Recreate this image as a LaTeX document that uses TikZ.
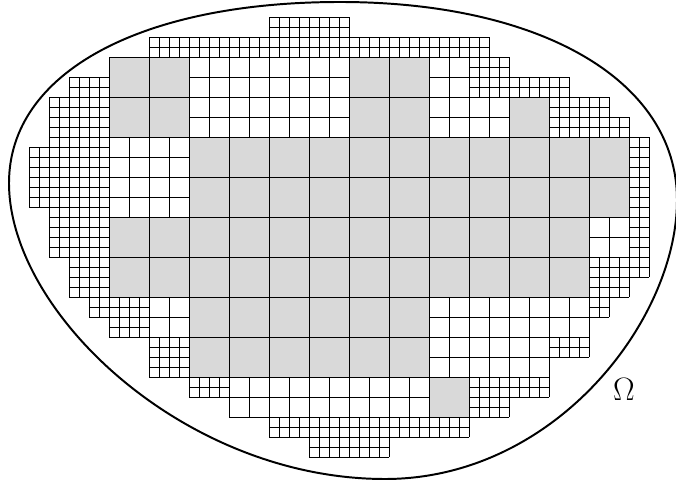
\RequirePackage{fix-cm}
\documentclass[tikz,border=0pt]{standalone}
\begin{document}
\begin{tikzpicture}[
    scale=.25, line width=.6pt,
    gris/.style={fill=gray!30},
    borde/.style={line width=1.4pt}]
    \useasboundingbox (-2.9,1.7) rectangle (64.7,-46.5);

    % Celdas grandes, rellenas de gris.
    \foreach \xa/\ya/\xb/\yb in {8/4/16/12, 32/4/40/12, 48/8/52/12,
        16/12/60/20, 8/20/56/28, 16/28/40/36, 40/36/44/40}
        {\fill[gris] (\xa,-\ya) rectangle (\xb,-\yb);
         \draw[step=4] (\xa,-\ya) grid (\xb,-\yb);}

    % Celdas medianas.
    \foreach \xa/\ya/\xb/\yb in {16/4/32/12, 40/4/44/8, 40/8/48/12,
        8/12/16/20, 56/20/60/24, 12/28/16/32, 40/28/56/32, 40/32/52/36,
        20/36/40/40}
        \draw[step=2] (\xa,-\ya) grid (\xb,-\yb);

    % Celdas finas junto a la frontera.
    \foreach \xa/\ya/\xb/\yb in {24/0/32/2, 12/2/46/4, 44/4/48/6,
        44/6/54/8, 52/8/58/10, 52/10/60/12, 60/12/62/26, 56/24/60/28,
        56/28/58/30, 52/32/56/34, 44/36/52/38, 44/38/48/40, 24/40/44/42,
        28/42/36/44, 16/36/20/38, 12/32/16/36, 8/30/12/32, 6/28/12/30,
        4/6/8/28, 2/8/4/24, 0/13/2/19}
        \draw[step=1] (\xa,-\ya) grid (\xb,-\yb);

    % Frontera del dominio.
    \draw[borde] (31.1,1.5)
        .. controls (51.1,1.5) and (64.8,-6.3) .. (64.8,-18.3)
        .. controls (64.8,-30.3) and (52.6,-46.2) .. (35.6,-46.2)
        .. controls (15.6,-46.2) and (-2,-29.6) .. (-2,-16.6)
        .. controls (-2,-5.6) and (11.1,1.5) .. cycle;
    \node[font=\fontsize{23}{28}\selectfont] (omega) at (59.5,-37.2) {$\Omega$};
\end{tikzpicture}
\end{document}
